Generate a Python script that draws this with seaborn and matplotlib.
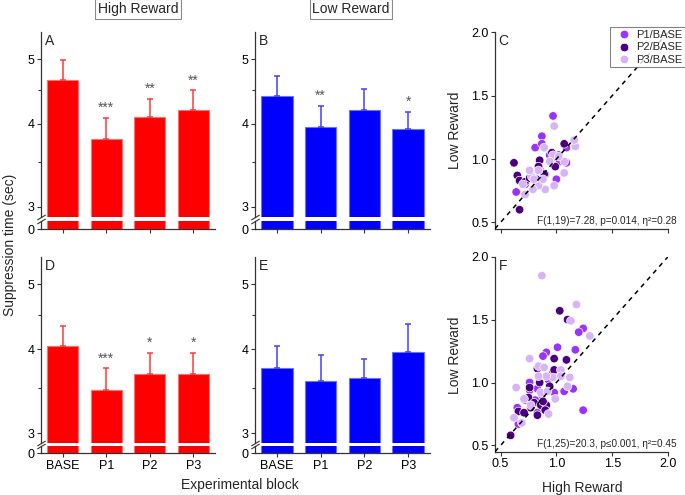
import numpy as np
import pandas as pd
import matplotlib
matplotlib.use('Agg')
import matplotlib.pyplot as plt
from matplotlib.ticker import FixedLocator, NullFormatter, FuncFormatter
import seaborn as sns

blocks = ['BASE', 'P1', 'P2', 'P3']

# bar heights and top of the (mean + SEM) whisker
high_top = [4.65, 3.80, 4.09, 4.20]
high_top_err = [4.99, 4.08, 4.36, 4.49]
low_top = [4.40, 3.96, 4.20, 3.93]
low_top_err = [4.72, 4.26, 4.51, 4.17]
high_bot = [4.04, 3.48, 3.68, 3.67]
high_bot_err = [4.34, 3.75, 3.95, 3.95]
low_bot = [3.75, 3.59, 3.62, 3.97]
low_bot_err = [4.05, 3.93, 3.87, 4.37]

stars_high_top = ['', '***', '**', '**']
stars_low_top = ['', '**', '', '*']
stars_high_bot = ['', '***', '*', '*']
stars_low_bot = ['', '', '', '']

ratios = ['P1/BASE', 'P2/BASE', 'P3/BASE']

# panel C: (high reward, low reward) ratios
c_p1_x = [0.97, 0.87, 0.81, 0.87, 0.64, 1.00, 1.09, 1.09, 0.98, 0.90, 0.79, 0.94, 1.03, 0.72, 0.85]
c_p1_y = [1.34, 1.18, 1.09, 1.12, 0.74, 0.84, 0.97, 1.09, 1.02, 0.88, 0.86, 1.03, 0.98, 0.80, 0.92]
c_p2_x = [0.62, 0.67, 0.65, 0.67, 0.72, 0.85, 0.89, 0.82, 0.99, 1.07, 0.84, 0.96, 1.02, 0.76]
c_p2_y = [0.97, 0.60, 0.87, 0.83, 0.82, 0.99, 0.88, 0.84, 0.94, 1.12, 0.94, 1.05, 1.03, 0.85]
c_p3_x = [0.98, 0.89, 1.17, 1.16, 1.07, 0.98, 0.90, 0.84, 0.79, 0.72, 0.78, 0.84, 0.76, 0.88,
          1.07, 0.97, 1.02, 0.94, 0.80, 0.70]
c_p3_y = [1.26, 1.09, 1.10, 1.15, 0.89, 0.79, 0.76, 0.79, 0.76, 0.72, 0.86, 0.91, 0.91, 0.84,
          0.98, 1.03, 1.02, 0.98, 0.84, 0.80]

# panel F
f_p1_x = [1.24, 1.20, 1.17, 1.01, 0.91, 0.88, 0.76, 0.87, 0.98, 1.07, 1.15, 1.24, 0.65, 0.66,
          0.83, 0.81, 0.83, 0.93, 0.76, 0.72, 0.97]
f_p1_y = [1.43, 1.40, 1.26, 1.28, 1.24, 1.21, 1.00, 0.90, 0.92, 0.93, 0.95, 0.78, 0.80, 0.67,
          0.95, 0.86, 0.76, 1.02, 0.94, 0.86, 1.08]
f_p2_x = [1.03, 1.10, 0.98, 1.09, 0.83, 0.98, 0.85, 0.76, 0.94, 0.75, 0.80, 0.86, 0.91, 0.83,
          0.66, 0.59, 0.77, 0.71, 0.88, 0.90]
f_p2_y = [1.57, 1.50, 1.19, 1.18, 1.11, 1.10, 1.00, 0.96, 0.97, 0.88, 0.84, 0.82, 0.82, 0.74,
          0.77, 0.58, 0.80, 0.76, 0.85, 0.78]
f_p3_x = [0.87, 1.18, 1.13, 1.30, 0.76, 0.64, 0.84, 0.89, 1.04, 0.97, 0.91, 1.04, 1.12, 1.10,
          0.99, 0.93, 0.71, 0.62, 0.69, 0.86, 0.84, 0.92, 0.77]
f_p3_y = [1.85, 1.62, 1.49, 1.37, 1.19, 0.96, 1.13, 1.12, 1.10, 1.04, 1.05, 1.05, 1.04, 0.97,
          0.87, 0.75, 0.87, 0.72, 0.68, 0.92, 1.05, 0.93, 0.82]

RED, RED_EDGE, RED_ERR = '#ff0000', '#ff7070', '#ff3a3a'
BLUE, BLUE_EDGE, BLUE_ERR = '#0000ff', '#7070ff', '#4040ff'
ratio_colors = {'P1/BASE': '#9933ff', 'P2/BASE': '#4b0082', 'P3/BASE': '#d7b4f5'}
AXC = '#333333'

sns.set_style('ticks')
plt.rcParams['font.family'] = ['Liberation Sans', 'DejaVu Sans']
plt.rcParams['axes.edgecolor'] = AXC
plt.rcParams['axes.linewidth'] = 0.9
plt.rcParams['xtick.color'] = AXC
plt.rcParams['ytick.color'] = AXC
plt.rcParams['xtick.labelcolor'] = 'black'
plt.rcParams['ytick.labelcolor'] = 'black'

fig = plt.figure(figsize=(6.85, 4.95), dpi=100)


def style_ticks(ax):
    ax.tick_params(axis='both', which='major', length=3, width=0.8, labelsize=9, pad=1.5)
    ax.tick_params(axis='both', which='minor', length=2, width=0.8)


def draw_bars(rect_top, rect_bot, means, tops, stars, color, edge, ecolor, letter, show_labels):
    ax_t = fig.add_axes(rect_top)
    ax_b = fig.add_axes(rect_bot)
    df = pd.DataFrame({'block': blocks, 'value': means})
    for ax in (ax_t, ax_b):
        sns.barplot(data=df, x='block', y='value', color=color, saturation=1,
                    width=0.72, edgecolor=edge, linewidth=0.8, errorbar=None, ax=ax)
        ax.set_xlim(-0.5, 3.5)
        ax.set_xlabel('')
        ax.set_ylabel('')
        style_ticks(ax)
        sns.despine(ax=ax)

    # upper part: log scale 2.9 .. 5.5
    ax_t.set_yscale('log')
    ax_t.set_ylim(2.9, 5.5)
    ax_t.yaxis.set_major_locator(FixedLocator([3, 4, 5]))
    ax_t.yaxis.set_major_formatter(FuncFormatter(lambda v, p: '%g' % v))
    ax_t.yaxis.set_minor_locator(FixedLocator([3.5, 4.5]))
    ax_t.yaxis.set_minor_formatter(NullFormatter())
    ax_t.spines['bottom'].set_visible(False)
    ax_t.tick_params(axis='x', bottom=False, labelbottom=False)

    m = np.array(means)
    up = np.array(tops) - m
    ax_t.errorbar(range(len(blocks)), m, yerr=[np.zeros_like(m), up], fmt='none',
                  ecolor=ecolor, elinewidth=1.1, capsize=2.2, capthick=1.1)
    for i, s in enumerate(stars):
        if s:
            ax_t.annotate(s, (i, tops[i]), xytext=(0, 2), textcoords='offset points',
                          ha='center', va='bottom', fontsize=10, color='#555555')
    ax_t.text(0.025, 0.99, letter, transform=ax_t.transAxes, ha='left', va='top', fontsize=10)

    # lower stub from 0
    ax_b.set_ylim(0, 1)
    ax_b.set_yticks([0])
    ax_b.set_yticklabels(['0'])
    if not show_labels:
        ax_b.tick_params(axis='x', labelbottom=False)

    d = 0.6
    kw = dict(marker=[(-1, -d), (1, d)], markersize=6, linestyle='none', color=AXC,
              mec=AXC, mew=0.8, clip_on=False)
    ax_t.plot([0], [0], transform=ax_t.transAxes, **kw)
    ax_b.plot([0], [1], transform=ax_b.transAxes, **kw)
    return ax_t, ax_b


def draw_scatter(rect, xs, ys, letter, stat, legend, show_xlabels):
    ax = fig.add_axes(rect)
    frames = []
    for name, x, y in zip(ratios, xs, ys):
        frames.append(pd.DataFrame({'high': x, 'low': y, 'ratio': name}))
    df = pd.concat(frames, ignore_index=True)
    sns.scatterplot(data=df, x='high', y='low', hue='ratio', hue_order=ratios,
                    palette=ratio_colors, s=38, edgecolor='white', linewidth=0.5,
                    legend=legend, ax=ax, zorder=2)
    ax.plot([0.45, 2.0], [0.45, 2.0], color='black', lw=1.1, ls=(0, (3, 3)), zorder=3)
    ax.set_xlim(0.45, 2.0)
    ax.set_ylim(0.45, 2.0)
    ticks = [0.5, 1.0, 1.5, 2.0]
    ax.set_xticks(ticks)
    ax.set_yticks(ticks)
    ax.set_xticklabels(['%.1f' % t for t in ticks] if show_xlabels else [])
    ax.set_yticklabels(['%.1f' % t for t in ticks])
    ax.set_xlabel('')
    ax.set_ylabel('')
    style_ticks(ax)
    sns.despine(ax=ax)
    ax.text(0.02, 0.99, letter, transform=ax.transAxes, ha='left', va='top', fontsize=10)
    ax.text(1.052, 0.012, stat, transform=ax.transAxes, ha='right', va='bottom', fontsize=7.2)
    if legend:
        sns.move_legend(ax, 'upper right', bbox_to_anchor=(1.098, 1.025), title=None,
                        frameon=True, fancybox=False, fontsize=8, handletextpad=0.1,
                        borderpad=0.25, labelspacing=0.2, borderaxespad=0, markerscale=1.0)
        frame = ax.get_legend().get_frame()
        frame.set_edgecolor('#666666')
        frame.set_linewidth(0.8)
    return ax


W, H = 685.0, 495.0


def rect(x0, y0, x1, y1):
    return [x0 / W, 1 - y1 / H, (x1 - x0) / W, (y1 - y0) / H]


draw_bars(rect(41, 31.7, 215, 216.7), rect(41, 220.5, 215, 229),
          high_top, high_top_err, stars_high_top, RED, RED_EDGE, RED_ERR, 'A', False)
draw_bars(rect(255, 31.7, 430, 216.7), rect(255, 220.5, 430, 229),
          low_top, low_top_err, stars_low_top, BLUE, BLUE_EDGE, BLUE_ERR, 'B', False)
draw_bars(rect(41, 256.7, 215, 443), rect(41, 445.5, 215, 453.3),
          high_bot, high_bot_err, stars_high_bot, RED, RED_EDGE, RED_ERR, 'D', True)
draw_bars(rect(255, 256.7, 430, 443), rect(255, 445.5, 430, 453.3),
          low_bot, low_bot_err, stars_low_bot, BLUE, BLUE_EDGE, BLUE_ERR, 'E', True)

draw_scatter(rect(495, 32.3, 668, 228.7), [c_p1_x, c_p2_x, c_p3_x], [c_p1_y, c_p2_y, c_p3_y],
             'C', 'F(1,19)=7.28, p=0.014, η²=0.28', True, False)
draw_scatter(rect(495, 256.7, 668, 451.7), [f_p1_x, f_p2_x, f_p3_x], [f_p1_y, f_p2_y, f_p3_y],
             'F', 'F(1,25)=20.3, p≤0.001, η²=0.45', False, True)

box = dict(boxstyle='square,pad=0.2', fc='white', ec='#888888', lw=0.8)
fig.text(138 / W, 1 - 9 / H, 'High Reward', ha='center', va='center', fontsize=10, bbox=box)
fig.text(351 / W, 1 - 9 / H, 'Low Reward', ha='center', va='center', fontsize=10, bbox=box)
fig.text(10 / W, 1 - 245 / H, 'Suppression time (sec)', rotation=90, ha='center', va='center', fontsize=10)
fig.text(240 / W, 1 - 485 / H, 'Experimental block', ha='center', va='center', fontsize=10)
fig.text(455 / W, 1 - 130 / H, 'Low Reward', rotation=90, ha='center', va='center', fontsize=10)
fig.text(455 / W, 1 - 355 / H, 'Low Reward', rotation=90, ha='center', va='center', fontsize=10)
fig.text(582 / W, 1 - 488 / H, 'High Reward', ha='center', va='center', fontsize=10)

fig.savefig('out.png', dpi=100)
